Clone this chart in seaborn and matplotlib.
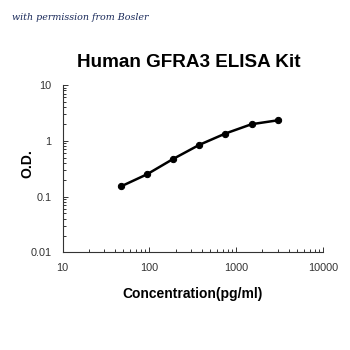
import numpy as np
import pandas as pd
import matplotlib
matplotlib.use("Agg")
import matplotlib.pyplot as plt
import seaborn as sns
from matplotlib.ticker import LogLocator, FixedLocator, FixedFormatter, NullFormatter

# Standard curve: concentration (pg/ml) vs optical density
concentration = [46.875, 93.75, 187.5, 375, 750, 1500, 3000]
od = [0.152, 0.251, 0.473, 0.846, 1.352, 1.985, 2.33]

x_ticks = [10, 100, 1000, 10000]
x_tick_labels = ["10", "100", "1000", "10000"]
y_ticks = [0.01, 0.1, 1, 10]
y_tick_labels = ["0.01", "0.1", "1", "10"]

title = "Human GFRA3 ELISA Kit"
x_label = "Concentration(pg/ml)"
y_label = "O.D."
credit = "with permission from Bosler"

sns.set_theme(style="white")
plt.rcParams["font.family"] = ["Liberation Sans", "DejaVu Sans"]
plt.rcParams["text.color"] = "black"
plt.rcParams["axes.labelcolor"] = "black"

df = pd.DataFrame({"conc": concentration, "od": od})

fig = plt.figure(figsize=(3.5, 3.5), dpi=100)
ax = fig.add_axes([0.179, 0.279, 0.744, 0.478])

sns.lineplot(data=df, x="conc", y="od", ax=ax, color="black", linewidth=1.8,
             marker="o", markersize=4.5, markeredgecolor="black", markerfacecolor="black")

ax.set_xscale("log")
ax.set_yscale("log")
ax.set_xlim(10, 10000)
ax.set_ylim(0.01, 10)

ax.xaxis.set_major_locator(FixedLocator(x_ticks))
ax.xaxis.set_major_formatter(FixedFormatter(x_tick_labels))
ax.yaxis.set_major_locator(FixedLocator(y_ticks))
ax.yaxis.set_major_formatter(FixedFormatter(y_tick_labels))
ax.xaxis.set_minor_locator(LogLocator(base=10, subs=np.arange(2, 10)))
ax.yaxis.set_minor_locator(LogLocator(base=10, subs=np.arange(2, 10)))
ax.xaxis.set_minor_formatter(NullFormatter())
ax.yaxis.set_minor_formatter(NullFormatter())

ax.tick_params(axis="both", which="both", direction="in", color="#333333", width=0.7,
               labelsize=7.8, labelcolor="#333333")
ax.tick_params(axis="both", which="major", length=3.5, pad=8)
ax.tick_params(axis="both", which="minor", length=2.5)
ax.tick_params(axis="y", which="both", left=True)
ax.tick_params(axis="x", which="both", bottom=True)

for side in ("top", "right"):
    ax.spines[side].set_visible(False)
for side in ("left", "bottom"):
    ax.spines[side].set_color("#333333")
    ax.spines[side].set_linewidth(0.8)

ax.set_xlabel(x_label, fontsize=10, fontweight="bold", labelpad=10)
ax.set_ylabel(y_label, fontsize=10, fontweight="bold")
ax.yaxis.set_label_coords(-0.11, 0.53)

fig.text(0.538, 0.822, title, ha="center", va="center", fontsize=13.6, fontweight="bold")
fig.text(0.034, 0.951, credit, ha="left", va="center", fontsize=6.8, style="italic",
         family=["DejaVu Serif"], color="#1a2a5a")

fig.savefig("out.png", dpi=100, facecolor="white")
